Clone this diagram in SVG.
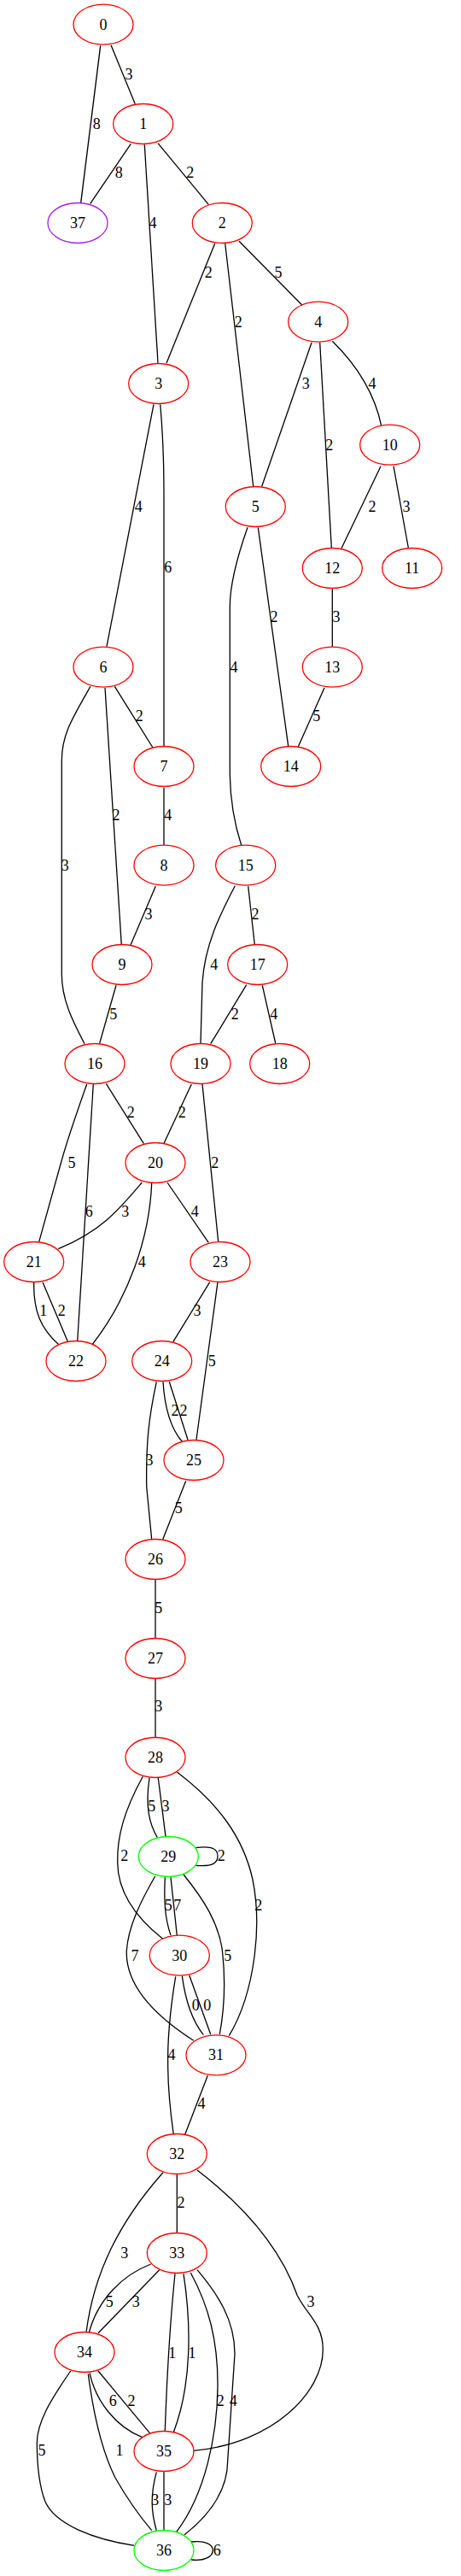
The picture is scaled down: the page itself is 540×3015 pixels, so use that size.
<svg xmlns="http://www.w3.org/2000/svg" width="540" height="3015" viewBox="0 0 540 3015">
<style>
.n ellipse{fill:none;stroke:#ff0000;stroke-width:1.3}
.n.g ellipse{stroke:#00ff00}
.n.p ellipse{stroke:#a020f0}
text{font-family:"Liberation Serif","Times New Roman",serif;font-size:18px;fill:#000;text-anchor:middle}
#edges path{fill:none;stroke:#000;stroke-width:1.3}
</style>
<rect width="540" height="3015" fill="#fff"/>
<g id="edges">
<path d="M130,52.7 L158.3,121.7"/>
<path d="M117.7,53.3 L94.7,237.3"/>
<path d="M153.3,168.3 L105.7,238.3"/>
<path d="M169.3,169.3 L185,425"/>
<path d="M185,167.7 L244.3,239.3"/>
<path d="M251.7,285 L195,425"/>
<path d="M263.7,285 L296.7,569.3"/>
<path d="M280,282.3 L354,357.3"/>
<path d="M365,401 L306.7,569.3"/>
<path d="M374.7,401 L388.3,641"/>
<path d="M389.3,399.3 Q435.4,444.6 446.7,498.3"/>
<path d="M446,545.7 L400,641.7"/>
<path d="M461,545.7 L478.3,641"/>
<path d="M180,473.3 L125,756.7"/>
<path d="M187.7,473.3 Q192,520 192,580 L192,873.3"/>
<path d="M290,617.3 C275,660 269.3,690 269.3,710 L269.3,906.7 Q270,950 282.7,989.3"/>
<path d="M302.3,617.3 L337.7,873.3"/>
<path d="M389.3,689.3 L389.3,757"/>
<path d="M380,805 L349.3,874"/>
<path d="M134.3,803.3 L179,875"/>
<path d="M123,805 L142.3,1105.7"/>
<path d="M106,803.3 C85,840 72.3,860 72.3,890 L72.3,1140 C72.3,1170 85,1195 99,1221.7"/>
<path d="M192,921.7 L192,989.3"/>
<path d="M182.3,1037.3 L152.7,1106.7"/>
<path d="M136,1153.3 L116.7,1221"/>
<path d="M275.3,1036.7 C258,1070 240,1105 237,1150 L235,1221"/>
<path d="M290.7,1037.3 L298.3,1105.7"/>
<path d="M288.7,1152.7 L246.7,1221.7"/>
<path d="M307.3,1153.3 L322.7,1221"/>
<path d="M101.7,1269 Q80,1330 71.7,1360 L45.7,1453.3"/>
<path d="M109.3,1269 L90.7,1570"/>
<path d="M124.3,1268.3 L168.3,1338.3"/>
<path d="M224.3,1269 L192,1338.3"/>
<path d="M237,1269 L255.7,1453.3"/>
<path d="M166.3,1384 C140,1415 120,1440 68.3,1461.7"/>
<path d="M177.7,1385 C175,1450 150,1520 108.3,1573.3"/>
<path d="M196,1384 L244.3,1454.3"/>
<path d="M39.7,1500.7 C39,1535 48,1555 68.3,1573.3"/>
<path d="M50,1500.7 L79.3,1570"/>
<path d="M245.7,1500.7 L202.7,1570.7"/>
<path d="M255,1500.7 L230,1685"/>
<path d="M191,1617.3 Q194,1665 213.3,1687.3"/>
<path d="M198.3,1617.3 L220,1685"/>
<path d="M183.3,1617.3 C174,1660 171,1690 171.7,1740 L177.7,1801.7"/>
<path d="M217.7,1733.3 L190.7,1801.7"/>
<path d="M182,1849 L182,1917"/>
<path d="M182,1965 L182,2033"/>
<path d="M175,2081 C170,2115 175,2135 184.3,2150.7"/>
<path d="M185.3,2081 L194,2149.3"/>
<path d="M167.3,2079.3 C145,2120 137,2150 137.7,2180 C138,2215 160,2245 190.7,2269.3"/>
<path d="M207.3,2074 C255,2110 285,2150 296,2200 C302,2230 302,2260 298,2290 C294,2320 285,2355 268.3,2382.7"/>
<path d="M229.3,2162.7 C250,2160 255,2165 255,2172.5 C255,2180 250,2185 229.3,2183.3"/>
<path d="M193.3,2197.3 C192,2225 193,2245 200,2265"/>
<path d="M200,2197.3 L207.3,2265"/>
<path d="M181.7,2196 C165,2225 150,2255 148.3,2283.3 C147,2320 175,2355 226.7,2388.3"/>
<path d="M215,2194 C240,2225 255,2250 260,2280 C265,2320 263,2350 257.3,2381"/>
<path d="M213.3,2312.7 C217,2340 225,2365 238.3,2381.7"/>
<path d="M221.7,2311.7 L246.7,2381"/>
<path d="M205.7,2313.3 C198,2360 196,2390 196.7,2420 C197,2450 200,2475 203.3,2498.3"/>
<path d="M243.3,2429.3 L216.7,2498.3"/>
<path d="M207.3,2545 L207.3,2613"/>
<path d="M191,2542.7 C140,2600 110,2660 101,2730"/>
<path d="M231,2540 C290,2585 330,2635 348.3,2686.7 C360,2710 378.3,2720 378.3,2750 C378.3,2800 320,2860 226.7,2868.3"/>
<path d="M176.7,2650 C145,2662 115,2690 104.3,2730"/>
<path d="M186.7,2656.7 L115,2730.7"/>
<path d="M205,2661.3 Q197,2740 193.3,2845"/>
<path d="M215,2661.3 C224,2720 225,2790 203.3,2846.7"/>
<path d="M223.3,2660 C245,2700 255,2740 255,2790 C255,2850 240,2920 206.7,2963.3"/>
<path d="M231,2656.7 C255,2685 275,2715 275,2755 L266.7,2880 C266.7,2910 250,2940 216,2966.7"/>
<path d="M105,2777.3 C112,2810 135,2840 166.7,2852.7"/>
<path d="M115,2775 L176,2848.3"/>
<path d="M82.7,2775 C60,2808 43,2835 43.3,2860 C43.5,2890 46,2910 53,2928 C65,2955 110,2972 157.3,2979.3"/>
<path d="M103.3,2778.3 C110,2830 120,2870 135,2900 Q155,2935 177.7,2961.7"/>
<path d="M183.3,2893.3 C176,2920 177,2940 183.3,2961.7"/>
<path d="M192,2893.3 L192,2961.7"/>
<path d="M224,2975 C240,2973 249.3,2978 249.3,2985 C249.3,2992 240,2998 224,2996"/>
<g id="edge-labels">
<text x="151" y="92.7">3</text>
<text x="113.3" y="151">8</text>
<text x="139.3" y="208.3">8</text>
<text x="179" y="267">4</text>
<text x="222.7" y="208.3">2</text>
<text x="244.3" y="325">2</text>
<text x="279.3" y="382.7">2</text>
<text x="326" y="325">5</text>
<text x="358.3" y="455">3</text>
<text x="385.7" y="526.7">2</text>
<text x="436" y="455">4</text>
<text x="436" y="599">2</text>
<text x="476" y="599">3</text>
<text x="162.3" y="599">4</text>
<text x="196.7" y="670.3">6</text>
<text x="274" y="786.7">4</text>
<text x="321" y="727.7">2</text>
<text x="394" y="727.7">3</text>
<text x="370.7" y="844.3">5</text>
<text x="163.3" y="844.3">2</text>
<text x="136" y="960">2</text>
<text x="76.3" y="1018.7">3</text>
<text x="196.7" y="960">4</text>
<text x="174" y="1076">3</text>
<text x="132.7" y="1192.7">5</text>
<text x="250.7" y="1135">4</text>
<text x="299" y="1076">2</text>
<text x="275.3" y="1192.7">2</text>
<text x="320.7" y="1192.7">4</text>
<text x="84" y="1367">5</text>
<text x="104.3" y="1424.3">6</text>
<text x="153.3" y="1308.3">2</text>
<text x="213.3" y="1308.3">2</text>
<text x="251.7" y="1367">2</text>
<text x="146.7" y="1424.3">3</text>
<text x="166.3" y="1482.7">4</text>
<text x="228.3" y="1424.3">4</text>
<text x="50.7" y="1540.3">1</text>
<text x="72.3" y="1540.3">2</text>
<text x="231" y="1540.3">3</text>
<text x="248.3" y="1598.7">5</text>
<text x="205" y="1656.7">2</text>
<text x="215" y="1656.7">2</text>
<text x="175" y="1715">3</text>
<text x="209.3" y="1771">5</text>
<text x="185.7" y="1887.7">5</text>
<text x="185.7" y="2003.3">3</text>
<text x="177.7" y="2120">5</text>
<text x="194" y="2120">3</text>
<text x="145.7" y="2178.3">2</text>
<text x="302.7" y="2236">2</text>
<text x="259.3" y="2178.3">2</text>
<text x="197.3" y="2236">5</text>
<text x="207.7" y="2236">7</text>
<text x="158" y="2294.7">7</text>
<text x="266.7" y="2294.7">5</text>
<text x="229.3" y="2352.7">0</text>
<text x="242.7" y="2352.7">0</text>
<text x="201" y="2411">4</text>
<text x="236" y="2468.3">4</text>
<text x="212" y="2584.3">2</text>
<text x="145.7" y="2642.7">3</text>
<text x="364" y="2700.3">3</text>
<text x="128.3" y="2700.3">5</text>
<text x="159.3" y="2700.3">3</text>
<text x="201.7" y="2760">1</text>
<text x="225" y="2760">1</text>
<text x="258.3" y="2816">2</text>
<text x="273.3" y="2816">4</text>
<text x="132.3" y="2816">6</text>
<text x="154" y="2816">2</text>
<text x="49" y="2874.3">5</text>
<text x="140" y="2874.3">1</text>
<text x="181.7" y="2931.7">3</text>
<text x="196.7" y="2931.7">3</text>
<text x="254.3" y="2991">6</text>
</g>
</g>
<g id="n0" class="n"><ellipse cx="121" cy="28.7" rx="35" ry="23.5"/><text x="121" y="34.7">0</text></g>
<g id="n1" class="n"><ellipse cx="167.7" cy="145" rx="35" ry="23.5"/><text x="167.7" y="151">1</text></g>
<g id="n37" class="n p"><ellipse cx="91" cy="261" rx="35" ry="23.5"/><text x="91" y="267">37</text></g>
<g id="n2" class="n"><ellipse cx="260.3" cy="261" rx="35" ry="23.5"/><text x="260.3" y="267">2</text></g>
<g id="n3" class="n"><ellipse cx="185.7" cy="449" rx="35" ry="23.5"/><text x="185.7" y="455">3</text></g>
<g id="n4" class="n"><ellipse cx="372.7" cy="376.7" rx="35" ry="23.5"/><text x="372.7" y="382.7">4</text></g>
<g id="n10" class="n"><ellipse cx="456.7" cy="520.7" rx="35" ry="23.5"/><text x="456.7" y="526.7">10</text></g>
<g id="n5" class="n"><ellipse cx="299.3" cy="593" rx="35" ry="23.5"/><text x="299.3" y="599">5</text></g>
<g id="n12" class="n"><ellipse cx="389.3" cy="665" rx="35" ry="23.5"/><text x="389.3" y="671">12</text></g>
<g id="n11" class="n"><ellipse cx="482.7" cy="665" rx="35" ry="23.5"/><text x="482.7" y="671">11</text></g>
<g id="n6" class="n"><ellipse cx="121" cy="780.7" rx="35" ry="23.5"/><text x="121" y="786.7">6</text></g>
<g id="n13" class="n"><ellipse cx="389.3" cy="780.7" rx="35" ry="23.5"/><text x="389.3" y="786.7">13</text></g>
<g id="n7" class="n"><ellipse cx="192" cy="897" rx="35" ry="23.5"/><text x="192" y="903">7</text></g>
<g id="n14" class="n"><ellipse cx="340.7" cy="897" rx="35" ry="23.5"/><text x="340.7" y="903">14</text></g>
<g id="n8" class="n"><ellipse cx="192" cy="1012.7" rx="35" ry="23.5"/><text x="192" y="1018.7">8</text></g>
<g id="n15" class="n"><ellipse cx="287.7" cy="1012.7" rx="35" ry="23.5"/><text x="287.7" y="1018.7">15</text></g>
<g id="n9" class="n"><ellipse cx="143" cy="1129" rx="35" ry="23.5"/><text x="143" y="1135">9</text></g>
<g id="n17" class="n"><ellipse cx="301.7" cy="1129" rx="35" ry="23.5"/><text x="301.7" y="1135">17</text></g>
<g id="n16" class="n"><ellipse cx="111" cy="1245" rx="35" ry="23.5"/><text x="111" y="1251">16</text></g>
<g id="n19" class="n"><ellipse cx="235" cy="1245" rx="35" ry="23.5"/><text x="235" y="1251">19</text></g>
<g id="n18" class="n"><ellipse cx="327.7" cy="1245" rx="35" ry="23.5"/><text x="327.7" y="1251">18</text></g>
<g id="n20" class="n"><ellipse cx="182" cy="1361" rx="35" ry="23.5"/><text x="182" y="1367">20</text></g>
<g id="n21" class="n"><ellipse cx="39.7" cy="1477" rx="35" ry="23.5"/><text x="39.7" y="1483">21</text></g>
<g id="n23" class="n"><ellipse cx="258" cy="1477" rx="35" ry="23.5"/><text x="258" y="1483">23</text></g>
<g id="n22" class="n"><ellipse cx="89" cy="1593" rx="35" ry="23.5"/><text x="89" y="1599">22</text></g>
<g id="n24" class="n"><ellipse cx="189.7" cy="1593" rx="35" ry="23.5"/><text x="189.7" y="1599">24</text></g>
<g id="n25" class="n"><ellipse cx="227" cy="1709" rx="35" ry="23.5"/><text x="227" y="1715">25</text></g>
<g id="n26" class="n"><ellipse cx="182" cy="1825" rx="35" ry="23.5"/><text x="182" y="1831">26</text></g>
<g id="n27" class="n"><ellipse cx="182" cy="1941" rx="35" ry="23.5"/><text x="182" y="1947">27</text></g>
<g id="n28" class="n"><ellipse cx="182" cy="2057" rx="35" ry="23.5"/><text x="182" y="2063">28</text></g>
<g id="n29" class="n g"><ellipse cx="197.3" cy="2173" rx="35" ry="23.5"/><text x="197.3" y="2179">29</text></g>
<g id="n30" class="n"><ellipse cx="210.3" cy="2288.7" rx="35" ry="23.5"/><text x="210.3" y="2294.7">30</text></g>
<g id="n31" class="n"><ellipse cx="253" cy="2405.3" rx="35" ry="23.5"/><text x="253" y="2411.3">31</text></g>
<g id="n32" class="n"><ellipse cx="207.3" cy="2521" rx="35" ry="23.5"/><text x="207.3" y="2527">32</text></g>
<g id="n33" class="n"><ellipse cx="207.3" cy="2637" rx="35" ry="23.5"/><text x="207.3" y="2643">33</text></g>
<g id="n34" class="n"><ellipse cx="99" cy="2753" rx="35" ry="23.5"/><text x="99" y="2759">34</text></g>
<g id="n35" class="n"><ellipse cx="192" cy="2869" rx="35" ry="23.5"/><text x="192" y="2875">35</text></g>
<g id="n36" class="n g"><ellipse cx="192" cy="2985" rx="35" ry="23.5"/><text x="192" y="2991">36</text></g>
</svg>
